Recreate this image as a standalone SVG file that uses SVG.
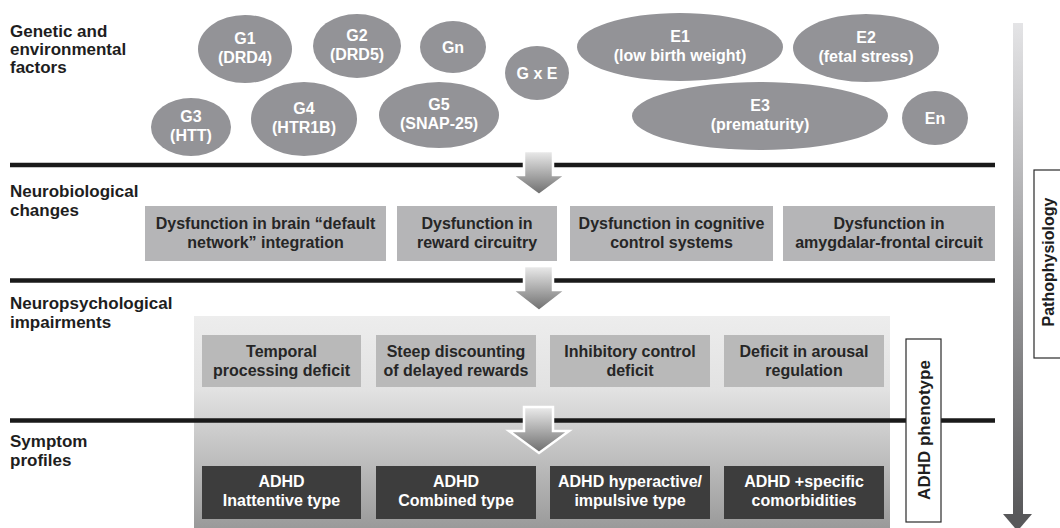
<svg xmlns="http://www.w3.org/2000/svg" width="1060" height="528" viewBox="0 0 1060 528">
<defs>
<linearGradient id="panelGrad" x1="0" y1="0" x2="0" y2="1">
<stop offset="0" stop-color="#ededed"/>
<stop offset="0.35" stop-color="#e2e2e2"/>
<stop offset="1" stop-color="#9a9a9a"/>
</linearGradient>
<linearGradient id="arrowGrad" x1="0" y1="0" x2="0" y2="1">
<stop offset="0" stop-color="#ececec"/>
<stop offset="1" stop-color="#6c6c6c"/>
</linearGradient>
<linearGradient id="barGrad" x1="0" y1="0" x2="0" y2="1">
<stop offset="0" stop-color="#e4e4e6"/>
<stop offset="1" stop-color="#58585a"/>
</linearGradient>
<style>
.lbl{font-family:"Liberation Sans",Arial,sans-serif;font-weight:bold;font-size:17px;fill:#1e1e1e}
.ell{fill:#939397}
.et{font-family:"Liberation Sans",Arial,sans-serif;font-weight:bold;font-size:16px;fill:#ffffff;text-anchor:middle}
.box{fill:#b5b5b7}
.box3{fill:#b9b9b9}
.dark{fill:#3d3d3d}
.bt{font-family:"Liberation Sans",Arial,sans-serif;font-weight:bold;font-size:16px;fill:#262626;text-anchor:middle}
.wt{font-family:"Liberation Sans",Arial,sans-serif;font-weight:bold;font-size:16px;fill:#ffffff;text-anchor:middle}
.sep{stroke:#1a1a1a;stroke-width:4.5}
.blk{fill:url(#arrowGrad);stroke:#ffffff;stroke-width:2.5}
.vt{font-family:"Liberation Sans",Arial,sans-serif;font-weight:bold;font-size:17px;fill:#1e1e1e;text-anchor:middle}
</style>
</defs>
<rect width="1060" height="528" fill="#ffffff"/>

<g id="panel"><rect x="194" y="316" width="696" height="212" fill="url(#panelGrad)"/></g>

<g id="labels">
<text class="lbl" x="10" y="37">Genetic and</text>
<text class="lbl" x="10" y="55">environmental</text>
<text class="lbl" x="10" y="73">factors</text>
<text class="lbl" x="10" y="197">Neurobiological</text>
<text class="lbl" x="10" y="216">changes</text>
<text class="lbl" x="10" y="309">Neuropsychological</text>
<text class="lbl" x="10" y="328">impairments</text>
<text class="lbl" x="10" y="447">Symptom</text>
<text class="lbl" x="10" y="466">profiles</text>
</g>

<g id="connectors">
<line class="sep" x1="10" y1="165" x2="995" y2="165"/>
<line class="sep" x1="10" y1="280.5" x2="995" y2="280.5"/>
<line class="sep" x1="10" y1="420.5" x2="995" y2="420.5"/>
<polygon class="blk" points="524,151 553,151 553,175 566,175 539,195 512,175 524,175"/>
<polygon class="blk" points="524,266 553,266 553,290 566,290 539,311 512,290 524,290"/>
<polygon class="blk" points="524,407 553,407 553,431 569,431 539,453 509,431 524,431"/>
<rect x="1013" y="23" width="10" height="493" fill="url(#barGrad)"/>
<polygon points="1003,514 1032,514 1017.5,531" fill="#58585a"/>
</g>

<g id="G1"><ellipse class="ell" cx="245" cy="49" rx="47" ry="34"/><text class="et" x="245" y="44">G1</text><text class="et" x="245" y="63">(DRD4)</text></g>
<g id="G2"><ellipse class="ell" cx="357" cy="46" rx="44" ry="32"/><text class="et" x="357" y="41">G2</text><text class="et" x="357" y="60">(DRD5)</text></g>
<g id="Gn"><ellipse class="ell" cx="453" cy="47" rx="33" ry="26"/><text class="et" x="453" y="53">Gn</text></g>
<g id="G3"><ellipse class="ell" cx="191" cy="127" rx="40" ry="29"/><text class="et" x="191" y="122">G3</text><text class="et" x="191" y="141">(HTT)</text></g>
<g id="G4"><ellipse class="ell" cx="304" cy="119" rx="53" ry="37"/><text class="et" x="304" y="114">G4</text><text class="et" x="304" y="133">(HTR1B)</text></g>
<g id="G5"><ellipse class="ell" cx="439" cy="115" rx="60" ry="33"/><text class="et" x="439" y="110">G5</text><text class="et" x="439" y="129">(SNAP-25)</text></g>
<g id="GxE"><ellipse class="ell" cx="537" cy="73" rx="32" ry="27"/><text class="et" x="537" y="79">G x E</text></g>
<g id="E1"><ellipse class="ell" cx="680" cy="47" rx="103" ry="34"/><text class="et" x="680" y="42">E1</text><text class="et" x="680" y="61">(low birth weight)</text></g>
<g id="E2"><ellipse class="ell" cx="866" cy="48" rx="73" ry="34"/><text class="et" x="866" y="43">E2</text><text class="et" x="866" y="62">(fetal stress)</text></g>
<g id="E3"><ellipse class="ell" cx="760" cy="116" rx="128" ry="34"/><text class="et" x="760" y="111">E3</text><text class="et" x="760" y="130">(prematurity)</text></g>
<g id="En"><ellipse class="ell" cx="935" cy="118" rx="33" ry="27"/><text class="et" x="935" y="124">En</text></g>

<g id="N1"><rect class="box" x="145" y="206" width="241" height="55"/><text class="bt" x="265.5" y="229">Dysfunction in brain “default</text><text class="bt" x="265.5" y="248">network” integration</text></g>
<g id="N2"><rect class="box" x="397" y="206" width="160" height="55"/><text class="bt" x="477" y="229">Dysfunction in</text><text class="bt" x="477" y="248">reward circuitry</text></g>
<g id="N3"><rect class="box" x="570" y="206" width="203" height="55"/><text class="bt" x="671.5" y="229">Dysfunction in cognitive</text><text class="bt" x="671.5" y="248">control systems</text></g>
<g id="N4"><rect class="box" x="783" y="206" width="212" height="55"/><text class="bt" x="889" y="229">Dysfunction in</text><text class="bt" x="889" y="248">amygdalar-frontal circuit</text></g>

<g id="P1"><rect class="box3" x="202" y="335" width="159" height="52"/><text class="bt" x="281.5" y="357">Temporal</text><text class="bt" x="281.5" y="376">processing deficit</text></g>
<g id="P2"><rect class="box3" x="376" y="335" width="160" height="52"/><text class="bt" x="456" y="357">Steep discounting</text><text class="bt" x="456" y="376">of delayed rewards</text></g>
<g id="P3"><rect class="box3" x="550" y="335" width="160" height="52"/><text class="bt" x="630" y="357">Inhibitory control</text><text class="bt" x="630" y="376">deficit</text></g>
<g id="P4"><rect class="box3" x="724" y="335" width="160" height="52"/><text class="bt" x="804" y="357">Deficit in arousal</text><text class="bt" x="804" y="376">regulation</text></g>

<g id="S1"><rect class="dark" x="202" y="466" width="159" height="53"/><text class="wt" x="281.5" y="487">ADHD</text><text class="wt" x="281.5" y="506">Inattentive type</text></g>
<g id="S2"><rect class="dark" x="376" y="466" width="160" height="53"/><text class="wt" x="456" y="487">ADHD</text><text class="wt" x="456" y="506">Combined type</text></g>
<g id="S3"><rect class="dark" x="550" y="466" width="160" height="53"/><text class="wt" x="630" y="487">ADHD hyperactive/</text><text class="wt" x="630" y="506">impulsive type</text></g>
<g id="S4"><rect class="dark" x="724" y="466" width="160" height="53"/><text class="wt" x="804" y="487">ADHD +specific</text><text class="wt" x="804" y="506">comorbidities</text></g>

<g id="phenotype"><rect x="906" y="339" width="35" height="183" fill="#ffffff" stroke="#2a2a2a" stroke-width="1.2"/><text class="vt" transform="translate(929.5,430) rotate(-90)">ADHD phenotype</text></g>
<g id="pathophysiology"><rect x="1034" y="170" width="30" height="188" fill="#ffffff" stroke="#2a2a2a" stroke-width="1.2"/><text class="vt" style="font-size:16px" transform="translate(1053.5,262) rotate(-90)">Pathophysiology</text></g>
</svg>
